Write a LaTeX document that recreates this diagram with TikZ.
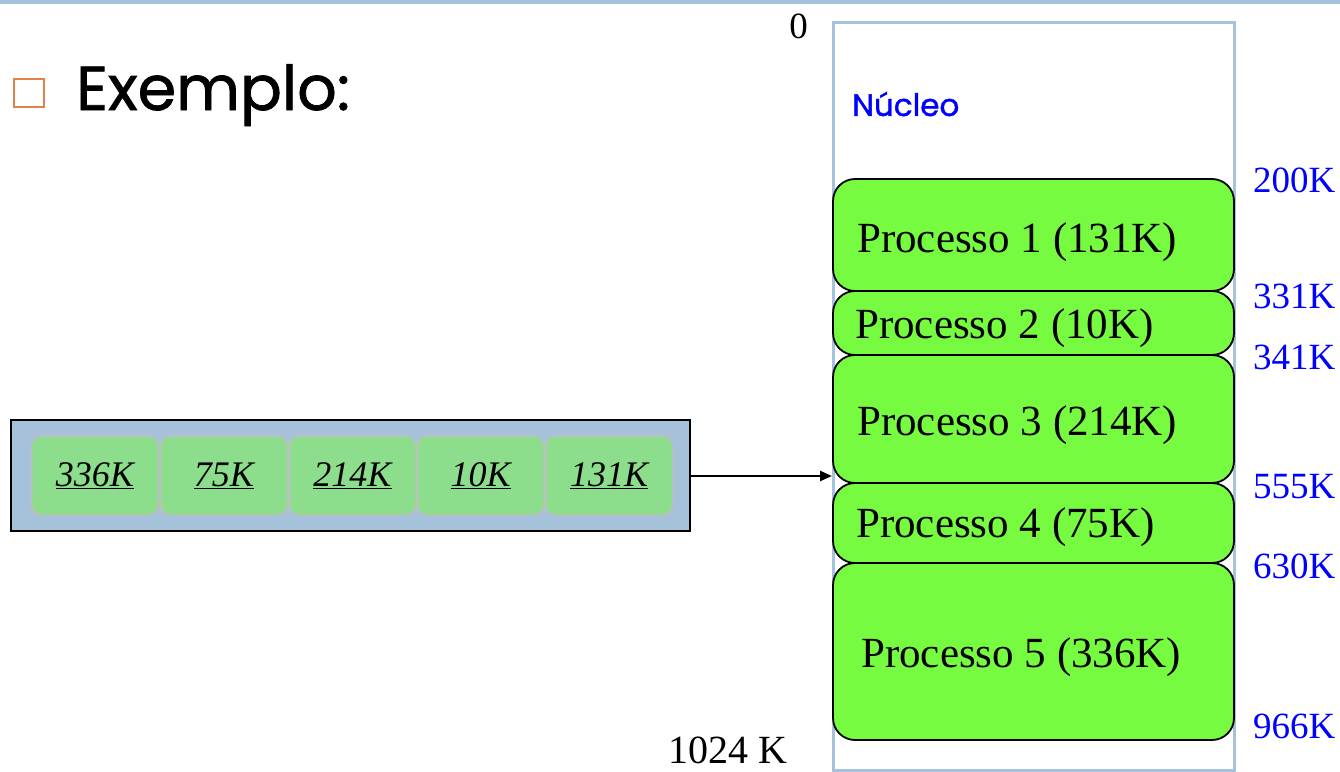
\documentclass[tikz,border=0pt]{standalone}
\usepackage{fontspec}
\setmainfont{Liberation Serif}
\newfontfamily\geo[FakeBold=1.2]{Poppins}
\usetikzlibrary{arrows.meta}
\definecolor{barblue}{HTML}{A5C2DA}
\definecolor{procgreen}{HTML}{76FB41}
\definecolor{cellgreen}{HTML}{8CDE8C}
\definecolor{bulletorange}{HTML}{E0824A}
\definecolor{labblue}{HTML}{0000FF}
\newcommand{\thickul}[1]{\underline{#1}}
\tikzset{
  proc/.style={draw=black, line width=1.8pt, fill=procgreen, rounded corners=22pt},
  proclabel/.style={anchor=west, inner sep=0pt, font=\fontsize{43}{46}\selectfont},
  addr/.style={anchor=west, inner sep=0pt, text=labblue, font=\fontsize{37}{40}\selectfont},
  cell/.style={draw=black!25, line width=1.5pt, fill=cellgreen, rounded corners=10pt, minimum width=127pt, minimum height=79pt, inner sep=0pt, font=\fontsize{36}{40}\selectfont\itshape},
}
\begin{document}
\begin{tikzpicture}[x=1pt,y=-1pt]
\useasboundingbox (0,0) rectangle (1340,771);
% top bar
\fill[barblue] (0,0) rectangle (1340,4);
% title
\draw[bulletorange, line width=2.8pt] (14,79) rectangle (44,107);
\node[anchor=base west, inner sep=0pt, font=\geo\fontsize{62}{66}\selectfont] (title) at (76,110) {Exemplo:};
% memory column
\node[draw=barblue, line width=3pt, fill=white, minimum width=401pt, minimum height=748pt, inner sep=0pt, anchor=north west] (mem) at (832,21) {};
\node[anchor=west, inner sep=0pt, text=labblue, font=\geo\fontsize{31}{34}\selectfont] (nucleo) at (852,104) {Núcleo};
% processes
\draw[proc] (833,179) rectangle (1234,291);
\draw[proc] (833,291) rectangle (1234,355);
\draw[proc] (833,355) rectangle (1234,483);
\draw[proc] (833,483) rectangle (1234,563);
\draw[proc] (833,563) rectangle (1234,740);
\node[proclabel] (p1) at (857,242) {Processo 1 (131K)};
\node[proclabel] (p2) at (855,328) {Processo 2 (10K)};
\node[proclabel] (p3) at (857,425) {Processo 3 (214K)};
\node[proclabel] (p4) at (856,527) {Processo 4 (75K)};
\node[proclabel] (p5) at (861,657) {Processo 5 (336K)};
% addresses
\node[anchor=east, inner sep=0pt, font=\fontsize{37}{40}\selectfont] (a0) at (808,26) {0};
\node[addr] (a200) at (1253,180) {200K};
\node[addr] (a331) at (1253,296) {331K};
\node[addr] (a341) at (1253,357) {341K};
\node[addr] (a555) at (1253,487) {555K};
\node[addr] (a630) at (1253,566) {630K};
\node[addr] (a966) at (1253,726) {966K};
\node[anchor=east, inner sep=0pt, font=\fontsize{40}{44}\selectfont] (a1024) at (788,750) {1024 K};
% queue
\node[draw=black, line width=1.8pt, fill=barblue, minimum width=679pt, minimum height=111pt, inner sep=0pt, anchor=north west] (queue) at (10,419) {};
\node[cell] (c1) at (95,475.5) {\thickul{336K}};
\node[cell] (c2) at (224,475.5) {\thickul{75K}};
\node[cell] (c3) at (352.5,475.5) {\thickul{214K}};
\node[cell] (c4) at (480.5,475.5) {\thickul{10K}};
\node[cell] (c5) at (609,475.5) {\thickul{131K}};
% arrow
\draw[line width=2.4pt, -{Triangle[length=12pt,width=10pt]}] (queue.east |- 0,476) -- (mem.west |- 0,476);
\end{tikzpicture}
\end{document}
